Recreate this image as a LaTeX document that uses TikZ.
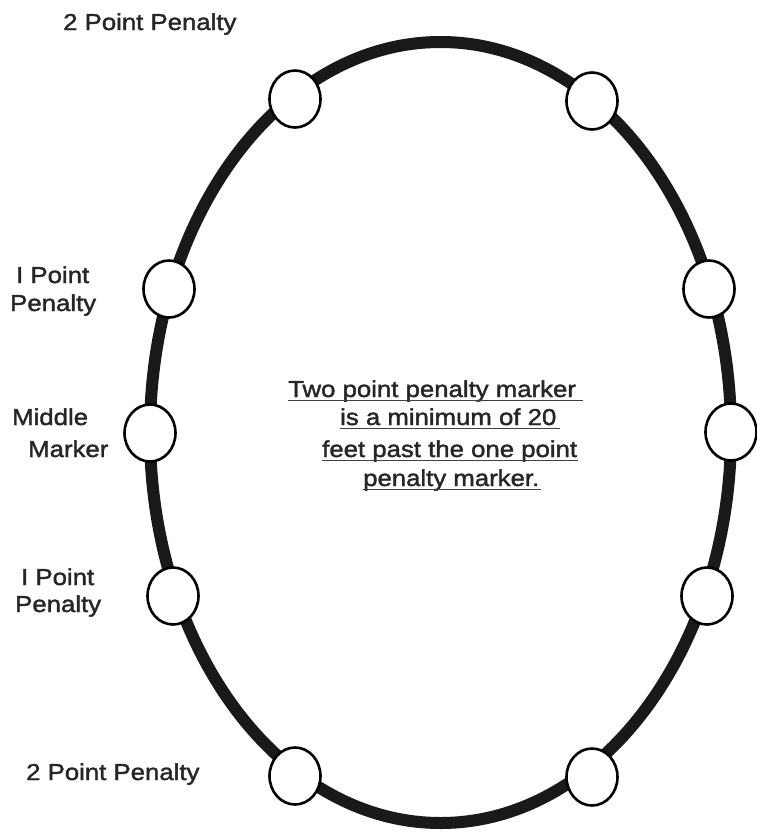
\documentclass[tikz,border=0pt]{standalone}
\usepackage{fontspec}
\setmainfont{Liberation Sans}[FakeStretch=1.12,FakeBold=1.6]
\usetikzlibrary{shapes.geometric}
\begin{document}
\begin{tikzpicture}[x=1pt,y=-1pt,
  marker/.style={draw=black,line width=2.6pt,fill=white,ellipse,inner sep=0pt,minimum width=51pt,minimum height=57pt},
  lbl/.style={anchor=base west,inner sep=0pt,font=\fontsize{23}{27}\selectfont,text=black!85},
  ctr/.style={anchor=base west,inner sep=0pt,font=\fontsize{23}{27}\selectfont,text=black!85},
  uline/.style={draw=black!75,line width=1.8pt}]
\useasboundingbox (0,0) rectangle (757,836);
\fill[white] (0,0) rectangle (757,836);
% track
\draw[line width=12pt,black!90] (440.5,432.5) ellipse [x radius=290.5, y radius=390.5];
% markers
\node[marker] (tl) at (295,99) {};
\node[marker] (tr) at (592,101) {};
\node[marker] (lu) at (169,289) {};
\node[marker] (lm) at (150,433) {};
\node[marker] (ll) at (173,596) {};
\node[marker] (ru) at (709,289) {};
\node[marker] (rm) at (731,432) {};
\node[marker] (rl) at (707,596) {};
\node[marker] (bl) at (295,776) {};
\node[marker] (br) at (592,777) {};
% labels
\node[lbl] (t2) at (63,30) {2 Point Penalty};
\node[lbl] (u1a) at (16,283) {I Point};
\node[lbl] (u1b) at (10,311) {Penalty};
\node[lbl] (mma) at (12,425) {Middle};
\node[lbl] (mmb) at (28,457) {Marker};
\node[lbl] (l1a) at (21,585) {I Point};
\node[lbl] (l1b) at (15,612) {Penalty};
\node[lbl] (b2) at (26,780) {2 Point Penalty};
% centre note
\node[ctr] (c1) at (288,397) {Two point penalty marker};
\node[ctr] (c2) at (340,425) {is a minimum of 20};
\node[ctr] (c3) at (322,457) {feet past the one point};
\node[ctr] (c4) at (363,486) {penalty marker.};
\draw[uline] ([yshift=-3.5pt]c1.base west) -- ([xshift=7pt,yshift=-3.5pt]c1.base east);
\draw[uline] ([yshift=-3.5pt]c2.base west) -- ([xshift=3pt,yshift=-3.5pt]c2.base east);
\draw[uline] ([yshift=-3.5pt]c3.base west) -- ([xshift=1pt,yshift=-3.5pt]c3.base east);
\draw[uline] ([yshift=-3.5pt]c4.base west) -- ([xshift=1pt,yshift=-3.5pt]c4.base east);
\end{tikzpicture}
\end{document}
